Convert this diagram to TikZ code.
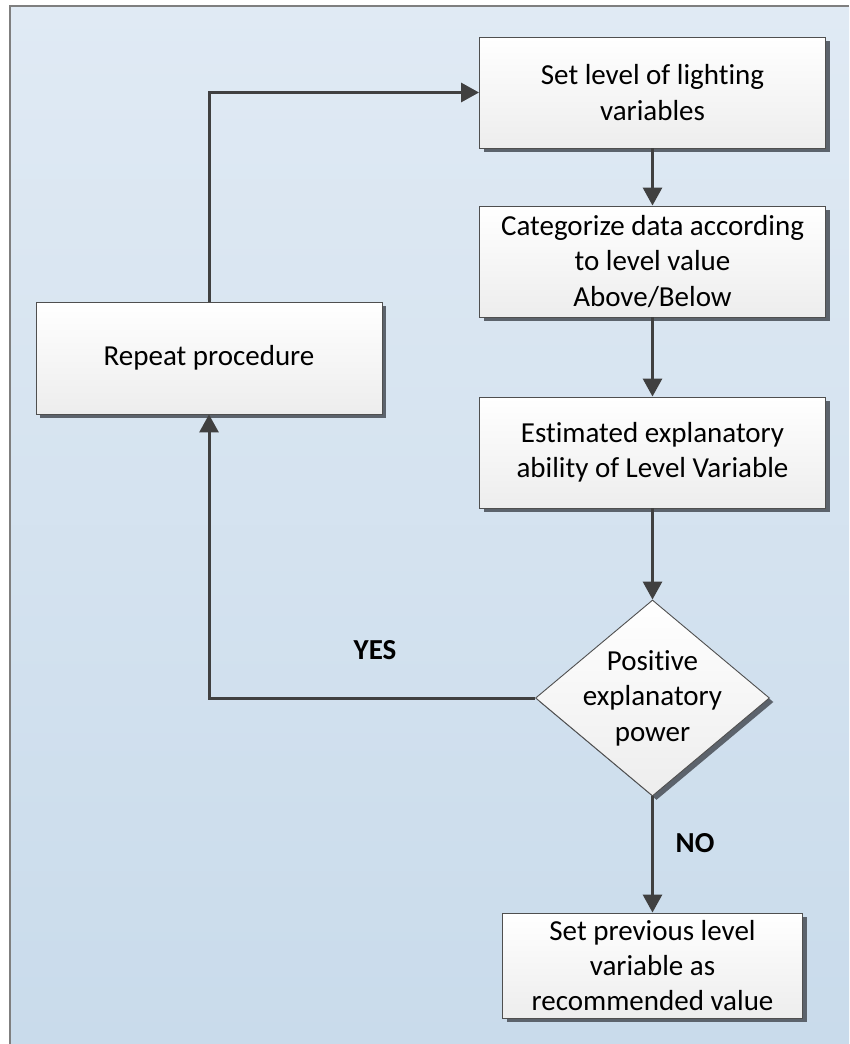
\documentclass[tikz,border=0pt]{standalone}
\usepackage{fontspec}
\setmainfont{Carlito}[Ligatures={NoCommon}]
\usetikzlibrary{arrows.meta,shapes.geometric,shadows}
\definecolor{bgtop}{HTML}{E0EAF4}
\definecolor{bgbot}{HTML}{C9DBEB}
\definecolor{framec}{HTML}{7F7F7F}
\definecolor{linec}{HTML}{404040}
\definecolor{edgec}{HTML}{4F4F4F}
\definecolor{shadowc}{HTML}{5C636C}
\definecolor{boxbot}{HTML}{EDEDED}
\tikzset{
  txt/.style={font=\fontsize{29pt}{35.4pt}\selectfont, align=center, text=black},
  stepbox/.style={txt, rectangle, draw=edgec, line width=0.9pt, inner sep=0pt,
    top color=white, bottom color=boxbot,
    drop shadow={shadow xshift=4pt, shadow yshift=-4pt, fill=shadowc, opacity=1}},
  decbox/.style={diamond, draw=edgec, line width=0.9pt, inner sep=0pt,
    top color=white, bottom color=boxbot,
    drop shadow={shadow xshift=4pt, shadow yshift=-4pt, fill=shadowc, opacity=1}},
  conn/.style={draw=linec, line width=3pt},
  arr/.style={conn, -{Triangle[length=18pt,width=19pt]}},
  lbl/.style={font=\fontsize{29pt}{35.4pt}\selectfont\bfseries, text=black}
}
\begin{document}
\begin{tikzpicture}[x=1pt,y=-1pt]
\useasboundingbox (0,0) rectangle (849,1044);
\fill[white] (0,0) rectangle (849,1044);
\shade[top color=bgtop, bottom color=bgbot] (10,6) rectangle (849,1044);
\draw[framec, line width=1.2pt] (10,1044) -- (10,6) -- (849,6);

\node[stepbox, minimum width=346pt, minimum height=111pt] (b1) at (652.5,92.5) {Set level of lighting\\variables};
\node[stepbox, minimum width=346pt, minimum height=111pt] (b2) at (652.5,261.5) {Categorize data according\\to level value\\Above/Below};
\node[stepbox, minimum width=346pt, minimum height=111pt] (b3) at (652.5,452.5) {Estimated explanatory\\ability of Level Variable};
\node[decbox, minimum width=234pt, minimum height=196pt] (d) at (652.5,698) {};
\node[txt] (dt) at (652.5,698) {Positive\\explanatory\\power};
\node[stepbox, minimum width=300pt, minimum height=105pt] (b4) at (652.5,965.5) {Set previous level\\variable as\\recommended value};
\node[stepbox, minimum width=346pt, minimum height=112pt] (rp) at (209,358) {Repeat procedure};

\draw[arr] (b1) -- (b2);
\draw[arr] (b2) -- (b3);
\draw[arr] (b3.south) -- (d.north);
\draw[arr] (d.south) -- (b4.north);
\draw[arr] (d.west) -| (rp.south);
\draw[arr] (rp.north) |- (b1.west);

\node[lbl] (yes) at (375,650) {YES};
\node[lbl] (no) at (695,843) {NO};
\end{tikzpicture}
\end{document}
